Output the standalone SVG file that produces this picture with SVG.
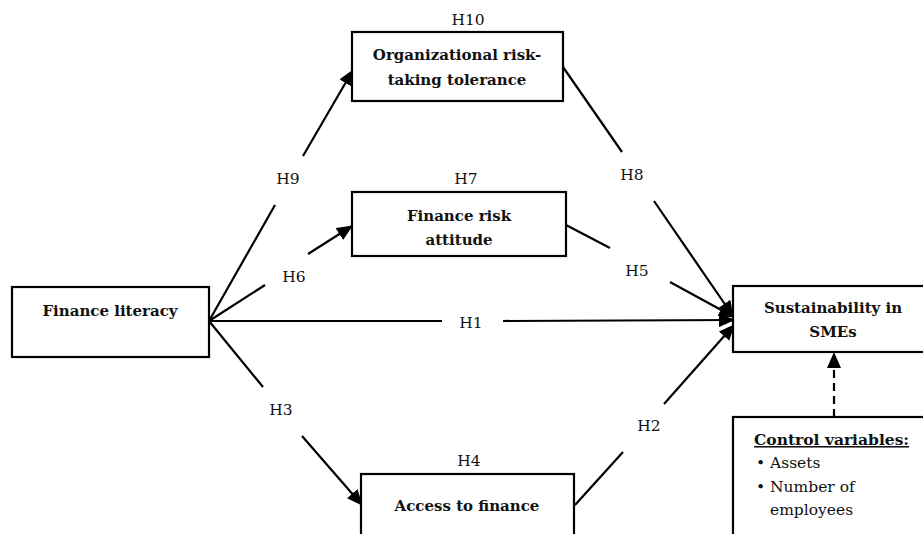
<svg xmlns="http://www.w3.org/2000/svg" width="923" height="534" viewBox="0 0 923 534">
<defs>
<style>
.box{fill:#fff;stroke:#000;stroke-width:2.2}
.t{font-family:'DejaVu Serif','Liberation Serif',serif;font-size:15.5px;fill:#111}
.b{font-weight:bold;text-anchor:middle;font-size:15px}
.h{text-anchor:middle}
.ln{stroke:#000;stroke-width:2.2;fill:none}
.dash{stroke:#000;stroke-width:2.2;fill:none;stroke-dasharray:8 5}
</style>
<marker id="arr" markerUnits="userSpaceOnUse" markerWidth="16" markerHeight="14" viewBox="0 0 16 14" refX="15" refY="7" orient="auto">
<path d="M0,0 L16,7 L0,14 Z" fill="#000"/>
</marker>
</defs>
<rect width="923" height="534" fill="#fff"/>

<g id="connectors">
<line class="ln" x1="209" y1="321" x2="275" y2="205"/>
<line class="ln" x1="303" y1="156" x2="353" y2="70" marker-end="url(#arr)"/>
<line class="ln" x1="209" y1="321" x2="265" y2="285"/>
<line class="ln" x1="308" y1="254" x2="352" y2="226" marker-end="url(#arr)"/>
<line class="ln" x1="209" y1="321" x2="442" y2="321"/>
<line class="ln" x1="503" y1="321" x2="734" y2="320" marker-end="url(#arr)"/>
<line class="ln" x1="209" y1="321" x2="263" y2="387"/>
<line class="ln" x1="302" y1="436" x2="362" y2="505" marker-end="url(#arr)"/>
<line class="ln" x1="563" y1="67" x2="622" y2="152"/>
<line class="ln" x1="654" y1="201" x2="733" y2="316" marker-end="url(#arr)"/>
<line class="ln" x1="566" y1="225" x2="610" y2="248"/>
<line class="ln" x1="670" y1="282" x2="734" y2="317" marker-end="url(#arr)"/>
<line class="ln" x1="575" y1="505" x2="623" y2="452"/>
<line class="ln" x1="664" y1="404" x2="734" y2="325" marker-end="url(#arr)"/>
<line class="dash" x1="834" y1="417" x2="834" y2="353" marker-end="url(#arr)"/>
</g>

<g id="labels">
<text class="t h" x="468" y="25">H10</text>
<text class="t h" x="288" y="184">H9</text>
<text class="t h" x="466" y="184">H7</text>
<text class="t h" x="294" y="282">H6</text>
<text class="t h" x="632" y="180">H8</text>
<text class="t h" x="637" y="276">H5</text>
<text class="t h" x="471" y="328">H1</text>
<text class="t h" x="281" y="415">H3</text>
<text class="t h" x="649" y="431">H2</text>
<text class="t h" x="469" y="466">H4</text>
</g>

<g id="finance-literacy">
<rect class="box" x="12" y="287" width="197" height="70"/>
<text class="t b" x="110" y="316">Finance literacy</text>
</g>

<g id="org-risk">
<rect class="box" x="352" y="32" width="211" height="69"/>
<text class="t b" x="457" y="60">Organizational risk-</text>
<text class="t b" x="457" y="85">taking tolerance</text>
</g>

<g id="finance-risk">
<rect class="box" x="352" y="192" width="214" height="64"/>
<text class="t b" x="459" y="221">Finance risk</text>
<text class="t b" x="459" y="245">attitude</text>
</g>

<g id="sustainability">
<rect class="box" x="733" y="286" width="200" height="66"/>
<text class="t b" x="833" y="313">Sustainability in</text>
<text class="t b" x="833" y="337">SMEs</text>
</g>

<g id="access">
<rect class="box" x="361" y="474" width="213" height="80"/>
<text class="t b" x="467" y="511">Access to finance</text>
</g>

<g id="control">
<rect class="box" x="733" y="417" width="200" height="130"/>
<text class="t" x="754" y="445" font-size="15" font-weight="bold" text-decoration="underline">Control variables:</text>
<text class="t" x="756" y="468">•</text>
<text class="t" x="770" y="468">Assets</text>
<text class="t" x="756" y="492">•</text>
<text class="t" x="770" y="492">Number of</text>
<text class="t" x="770" y="515">employees</text>
</g>
</svg>
